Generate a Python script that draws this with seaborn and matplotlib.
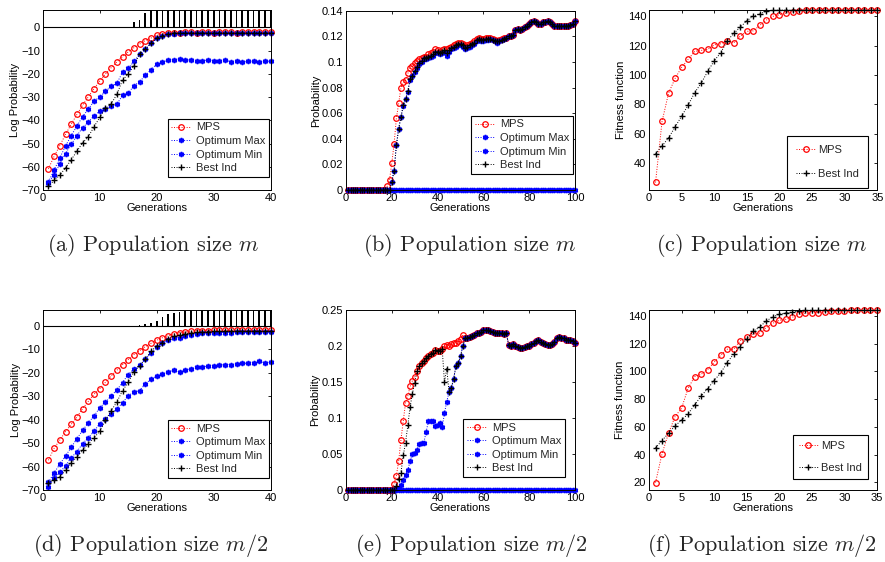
import matplotlib
matplotlib.use("Agg")
import matplotlib.pyplot as plt
from matplotlib.ticker import FuncFormatter, FixedLocator
import seaborn as sns

# ---------------- data ----------------
GEN40 = list(range(1, 41))
GEN100 = list(range(1, 101))
GEN35 = list(range(1, 36))

# (a) population size m, log probability
MPS_A = [-60.9, -55.5, -50.9, -46.1, -41.7, -37.5, -33.5, -29.9, -26.4, -23.1,
         -20.1, -17.4, -14.9, -12.6, -10.6, -8.8, -7.2, -5.7, -4.6, -3.4,
         -2.7, -2.4, -2.3, -2.3, -2.2, -2.2, -2.3, -2.2, -2.2, -2.3,
         -2.2, -2.2, -2.2, -2.3, -2.2, -2.2, -2.2, -2.2, -2.2, -2.2]
OPTMAX_A = [-66.5, -61.5, -56.2, -51.1, -46.6, -42.5, -38.4, -35.2, -31.8, -29.9,
            -27.6, -25.4, -24.1, -19.4, -17.7, -14.7, -11.5, -9.3, -6.8, -4.7,
            -3.6, -2.9, -2.7, -2.6, -2.6, -2.6, -2.6, -2.6, -2.6, -2.6,
            -2.6, -2.6, -2.6, -2.6, -2.6, -2.6, -2.6, -2.6, -2.6, -2.6]
OPTMIN_A = [-67.0, -63.4, -58.9, -54.3, -50.4, -46.6, -43.2, -40.8, -38.1, -36.1,
            -35.2, -33.9, -33.2, -29.2, -28.4, -25.1, -23.4, -20.7, -18.2, -15.9,
            -15.1, -14.1, -14.1, -13.6, -14.1, -14.1, -14.4, -14.4, -14.1, -14.3,
            -14.4, -14.1, -14.8, -14.7, -15.0, -14.7, -14.7, -15.1, -14.5, -14.7]
BEST_A = [-68.4, -65.9, -63.6, -60.5, -57.0, -53.3, -49.7, -47.1, -42.8, -38.8,
          -34.9, -33.0, -28.9, -22.7, -20.1, -16.5, -11.5, -9.5, -6.9, -4.7,
          -3.6, -2.9, -2.5, -2.4, -2.4, -2.4, -2.4, -2.4, -2.4, -2.4,
          -2.4, -2.4, -2.4, -2.4, -2.4, -2.4, -2.4, -2.4, -2.4, -2.4]
BARS_A = [0.0] * 14 + [0.3, 2.3, 3.2, 6.0] + [10.0] * 22

# (d) population size m/2, log probability
MPS_D = [-57.2, -52.1, -48.6, -45.0, -41.9, -38.8, -35.2, -32.1, -29.1, -26.7,
         -24.0, -21.3, -18.9, -16.5, -14.3, -12.2, -10.5, -8.8, -7.4, -6.1,
         -5.0, -4.1, -3.4, -2.8, -2.6, -2.3, -2.0, -2.0, -2.0, -1.9,
         -1.9, -1.9, -1.9, -1.9, -1.9, -1.9, -1.9, -1.9, -1.9, -1.9]
OPTMAX_D = [-66.6, -62.6, -58.9, -55.4, -51.7, -48.0, -44.5, -41.2, -38.4, -34.8,
            -32.5, -29.8, -27.3, -24.1, -20.7, -18.3, -16.8, -14.1, -11.5, -9.1,
            -7.4, -6.1, -5.3, -5.0, -4.4, -3.8, -3.4, -3.0, -2.9, -2.8,
            -2.8, -2.8, -2.8, -2.7, -2.7, -2.7, -2.7, -2.7, -2.7, -2.7]
OPTMIN_D = [-68.5, -64.9, -62.4, -59.5, -56.1, -53.6, -50.1, -47.6, -44.9, -41.6,
            -39.6, -37.4, -35.4, -32.7, -29.7, -28.1, -27.6, -24.7, -22.7, -21.3,
            -20.5, -19.5, -18.8, -19.5, -18.8, -18.2, -17.3, -17.6, -17.0, -16.9,
            -16.8, -16.5, -16.5, -16.2, -15.9, -15.9, -15.6, -15.1, -15.6, -15.5]
BEST_D = [-66.8, -65.5, -64.2, -61.5, -58.4, -55.7, -53.0, -50.3, -47.6, -44.9,
          -40.2, -36.2, -32.4, -27.6, -24.0, -19.5, -16.9, -14.2, -10.7, -8.5,
          -7.1, -5.5, -4.3, -3.9, -3.3, -3.0, -2.7, -2.5, -2.4, -2.3,
          -2.3, -2.2, -2.2, -2.2, -2.2, -2.2, -2.2, -2.2, -2.2, -2.2]
BARS_D = [0.0] * 16 + [0.4, 0.7, 1.4, 2.3, 4.0, 5.1, 5.7, 6.0, 6.2] + [10.0] * 15

# (b) population size m, probability
TAIL_B = [0.119, 0.120, 0.120, 0.121, 0.125, 0.126, 0.125, 0.126, 0.127, 0.128,
          0.130, 0.131, 0.132, 0.131, 0.130, 0.130, 0.131, 0.131, 0.132, 0.131,
          0.130, 0.128, 0.128, 0.128, 0.128, 0.128, 0.128, 0.128, 0.129, 0.130,
          0.132]  # generations 70..100
MPS_B = [0.0] * 17 + [
    0.003, 0.0078, 0.021, 0.036, 0.056, 0.0676, 0.080, 0.084, 0.086, 0.091,
    0.0955, 0.0967, 0.099, 0.1007, 0.102, 0.103, 0.104, 0.104, 0.106, 0.107,
    0.108, 0.110, 0.109, 0.108, 0.109, 0.110, 0.110, 0.111, 0.112, 0.113,
    0.114, 0.115, 0.115, 0.114, 0.112, 0.113, 0.114, 0.115, 0.116, 0.118,
    0.119, 0.118, 0.118, 0.119, 0.119, 0.119, 0.118, 0.117, 0.116, 0.117,
    0.118, 0.119] + TAIL_B
OPTMAX_B = [0.0] * 19 + [
    0.0065, 0.015, 0.035, 0.048, 0.057, 0.0655, 0.0707, 0.0767, 0.086, 0.089,
    0.092, 0.095, 0.098, 0.100, 0.102, 0.102, 0.103, 0.104, 0.105, 0.107,
    0.107, 0.106, 0.107, 0.108, 0.105, 0.108, 0.110, 0.111, 0.112, 0.113,
    0.113, 0.112, 0.110, 0.111, 0.112, 0.113, 0.114, 0.116, 0.117, 0.116,
    0.116, 0.117, 0.117, 0.118, 0.117, 0.116, 0.115, 0.116, 0.117, 0.118] + TAIL_B
OPTMIN_B = [0.0] * 100
BEST_B = [0.0] * 19 + [
    0.0065, 0.015, 0.035, 0.048, 0.057, 0.066, 0.071, 0.077, 0.087, 0.089,
    0.093, 0.096, 0.099, 0.101, 0.103, 0.103, 0.104, 0.105, 0.106, 0.108,
    0.108, 0.107, 0.108, 0.109, 0.107, 0.109, 0.111, 0.112, 0.113, 0.114,
    0.114, 0.113, 0.111, 0.112, 0.113, 0.114, 0.115, 0.117, 0.118, 0.117,
    0.117, 0.118, 0.118, 0.118, 0.117, 0.116, 0.116, 0.116, 0.117, 0.118] + TAIL_B

# (e) population size m/2, probability
TAIL_E = [0.211, 0.212, 0.213, 0.214, 0.216, 0.218, 0.218, 0.220, 0.222, 0.223,
          0.222, 0.221, 0.220, 0.219, 0.218, 0.218, 0.218, 0.217, 0.219, 0.202,
          0.200, 0.203, 0.201, 0.199, 0.198, 0.198, 0.199, 0.200, 0.201, 0.203,
          0.204, 0.207, 0.208, 0.206, 0.204, 0.203, 0.202, 0.202, 0.203, 0.206,
          0.211, 0.213, 0.212, 0.211, 0.209, 0.209, 0.208, 0.207, 0.204]  # 52..100
MPS_E = [0.0] * 20 + [
    0.009, 0.020, 0.040, 0.070, 0.096, 0.121, 0.131, 0.144, 0.152, 0.157,
    0.165, 0.173, 0.176, 0.179, 0.183, 0.186, 0.189, 0.191, 0.195, 0.194,
    0.194, 0.196, 0.200, 0.202, 0.201, 0.203, 0.204, 0.205, 0.207, 0.210,
    0.216] + TAIL_E
OPTMAX_E = [0.0] * 22 + [
    0.003, 0.007, 0.014, 0.021, 0.028, 0.040, 0.050, 0.051, 0.056, 0.064,
    0.065, 0.066, 0.081, 0.096, 0.096, 0.096, 0.089, 0.091, 0.093, 0.087,
    0.107, 0.123, 0.136, 0.142, 0.155, 0.172, 0.176, 0.186, 0.200] + TAIL_E
OPTMIN_E = [0.0] * 100
BEST_E = [0.0] * 21 + [
    0.005, 0.015, 0.024, 0.048, 0.066, 0.090, 0.116, 0.134, 0.149,
    0.165, 0.173, 0.176, 0.179, 0.183, 0.186, 0.189, 0.191, 0.195, 0.194,
    0.194, 0.196, 0.150, 0.169,
    0.136, 0.142, 0.155, 0.172, 0.176, 0.186, 0.200] + TAIL_E

# (c) population size m, fitness
MPS_C = [27.1, 68.5, 87.7, 97.7, 105.2, 110.6, 116.0, 116.7, 117.4, 120.5,
         121.2, 123.3, 121.9, 126.4, 129.6, 130.0, 133.7, 137.3, 139.8, 140.9,
         142.0, 142.7, 143.7, 144, 144, 144, 143.8, 144, 144, 144,
         144, 144, 144, 144, 144]
BEST_C = [46.6, 51.8, 57.4, 64.7, 72.1, 79.6, 88.0, 94.5, 102.4, 109.7,
          115.1, 123.3, 128.2, 132.5, 136.8, 140.0, 141.6, 143.2, 143.8, 144,
          144, 144, 144, 144, 144, 144, 144, 144, 144, 144,
          144, 144, 144, 144, 144]

# (f) population size m/2, fitness
MPS_F = [19.8, 40.5, 55.4, 67.4, 73.4, 87.8, 96.2, 97.9, 101.3, 106.6,
         111.6, 116.0, 116.0, 122.2, 124.6, 127.0, 127.7, 131.6, 134.7, 136.9,
         137.6, 139.0, 141.2, 141.9, 142.4, 142.4, 143.1, 143.8, 143.8, 143.8,
         144, 144, 144, 144, 144]
BEST_F = [44.8, 50.1, 55.4, 60.7, 64.8, 69.3, 75.8, 82.1, 87.6, 93.4,
          98.9, 106.3, 112.6, 117.9, 123.7, 128.9, 132.1, 136.4, 139.3, 141.2,
          142.2, 142.9, 143.8, 144, 144, 144, 144, 144, 144, 144,
          144, 144, 144, 144, 144]

LABELS4 = ["MPS", "Optimum Max", "Optimum Min", "Best Ind"]
LABELS2 = ["MPS", "Best Ind"]
CAPTIONS = [r"(a) Population size $m$", r"(b) Population size $m$",
            r"(c) Population size $m$", r"(d) Population size $m/2$",
            r"(e) Population size $m/2$", r"(f) Population size $m/2$"]

# ---------------- style ----------------
sns.set_style("white")
plt.rcParams.update({
    "font.family": ["Liberation Sans", "DejaVu Sans"],
    "mathtext.fontset": "cm",
    "axes.edgecolor": "black",
    "axes.linewidth": 0.7,
    "xtick.direction": "in",
    "ytick.direction": "in",
    "xtick.top": True,
    "ytick.right": True,
    "xtick.major.size": 2.5,
    "ytick.major.size": 2.5,
    "xtick.major.width": 0.6,
    "ytick.major.width": 0.6,
    "xtick.major.pad": 2.0,
    "ytick.major.pad": 2.0,
    "xtick.color": "black",
    "ytick.color": "black",
    "xtick.labelsize": 8,
    "ytick.labelsize": 8,
    "axes.labelsize": 8,
    "axes.labelcolor": "black",
})

STY = {
    "MPS": dict(color="red", marker="o", markersize=4, markerfacecolor="none",
                markeredgecolor="red", markeredgewidth=0.9),
    "Optimum Max": dict(color="blue", marker=(6, 2, 0), markersize=3.8,
                        markeredgecolor="blue", markeredgewidth=1.15),
    "Optimum Min": dict(color="blue", marker=(6, 2, 0), markersize=3.8,
                        markeredgecolor="blue", markeredgewidth=1.15),
    "Best Ind": dict(color="black", marker="+", markersize=5,
                     markeredgecolor="black", markeredgewidth=1.0),
}

W, H = 885, 562
fig = plt.figure(figsize=(W / 100, H / 100), dpi=100)


def add_ax(l, t, r, b):
    return fig.add_axes([l / W, 1 - b / H, (r - l) / W, (b - t) / H])


fmt = FuncFormatter(lambda v, p: f"{v:g}".replace("-", "\u2212"))


def draw(ax, x, series, labels):
    for y, lab in zip(series, labels):
        sns.lineplot(x=x, y=y, ax=ax, label=lab, linestyle=(0, (1, 1.6)),
                     linewidth=0.7, clip_on=False, **STY[lab])


def finish(ax, xlim, xticks, ylim, yticks, ylabel, ylab_x, leg_anchor, two=False,
           bpad=0.55, lspace=0.95):
    ax.set_xlim(*xlim)
    ax.set_ylim(*ylim)
    ax.xaxis.set_major_locator(FixedLocator(xticks))
    ax.yaxis.set_major_locator(FixedLocator(yticks))
    ax.xaxis.set_major_formatter(fmt)
    ax.yaxis.set_major_formatter(fmt)
    ax.set_xlabel("Generations", labelpad=0.3)
    ax.set_ylabel(ylabel)
    ax.yaxis.set_label_coords(ylab_x, 0.5)
    for s in ax.spines.values():
        s.set_visible(True)
        s.set_color("black")
    if two:
        leg = ax.legend(loc="lower right", bbox_to_anchor=leg_anchor, borderaxespad=0,
                        fontsize=8, frameon=True, fancybox=False, framealpha=1,
                        edgecolor="black", handlelength=1.7, handletextpad=0.3,
                        borderpad=bpad, labelspacing=lspace, numpoints=1)
    else:
        leg = ax.legend(loc="lower right", bbox_to_anchor=leg_anchor, borderaxespad=0,
                        fontsize=8, frameon=True, fancybox=False, framealpha=1,
                        edgecolor="black", handlelength=1.8, handletextpad=0.4,
                        borderpad=0.35, labelspacing=0.32, numpoints=1)
    leg.get_frame().set_linewidth(0.8)


# (a)
ax = add_ax(42.7, 10, 270.7, 190)
ax.bar(GEN40, BARS_A, width=0.3, color="black", linewidth=0)
ax.axhline(0, color="black", linewidth=0.8)
draw(ax, GEN40, [MPS_A, OPTMAX_A, OPTMIN_A, BEST_A], LABELS4)
finish(ax, (0, 40), [0, 10, 20, 30, 40], (-70, 7.45), list(range(-70, 1, 10)),
       "Log Probability", -0.0996, (0.993, 0.072))

# (b)
ax = add_ax(346, 10.7, 575, 190)
draw(ax, GEN100, [MPS_B, OPTMAX_B, OPTMIN_B, BEST_B], LABELS4)
finish(ax, (0, 100), [0, 20, 40, 60, 80, 100], (0, 0.14),
       [0, 0.02, 0.04, 0.06, 0.08, 0.1, 0.12, 0.14],
       "Probability", -0.1105, (0.991, 0.089))

# (c)
ax = add_ax(649, 10, 877.3, 190)
draw(ax, GEN35, [MPS_C, BEST_C], LABELS2)
finish(ax, (0, 35), [0, 5, 10, 15, 20, 25, 30, 35], (22, 144.1),
       [40, 60, 80, 100, 120, 140], "Fitness function", -0.1007, (0.96, 0.011),
       two=True, bpad=0.8, lspace=1.3)

# (d)
ax = add_ax(42.7, 310, 270.7, 490.3)
ax.bar(GEN40, BARS_D, width=0.3, color="black", linewidth=0)
ax.axhline(0, color="black", linewidth=0.8)
draw(ax, GEN40, [MPS_D, OPTMAX_D, OPTMIN_D, BEST_D], LABELS4)
finish(ax, (0, 40), [0, 10, 20, 30, 40], (-70, 6.8), list(range(-70, 1, 10)),
       "Log Probability", -0.0965, (0.993, 0.067))

# (e)
ax = add_ax(346, 310.3, 575, 490)
draw(ax, GEN100, [MPS_E, OPTMAX_E, OPTMIN_E, BEST_E], LABELS4)
finish(ax, (0, 100), [0, 20, 40, 60, 80, 100], (0, 0.25),
       [0, 0.05, 0.1, 0.15, 0.2, 0.25], "Probability", -0.113, (0.956, 0.072))

# (f)
ax = add_ax(649, 310, 877, 490)
draw(ax, GEN35, [MPS_F, BEST_F], LABELS2)
finish(ax, (0, 35), [0, 5, 10, 15, 20, 25, 30, 35], (14.4, 144.3),
       [20, 40, 60, 80, 100, 120, 140], "Fitness function", -0.105, (0.96, 0.061),
       two=True, bpad=0.55, lspace=1.05)

# captions
CAP_X = [153, 470, 762, 151, 471, 762]
CAP_Y = [251, 251, 251, 551, 551, 551]
for txt, cx, cy in zip(CAPTIONS, CAP_X, CAP_Y):
    fig.text(cx / W, 1 - cy / H, txt, ha="center", va="baseline",
             fontsize=16, fontfamily="cmr10")

fig.savefig("out.png", dpi=100)
